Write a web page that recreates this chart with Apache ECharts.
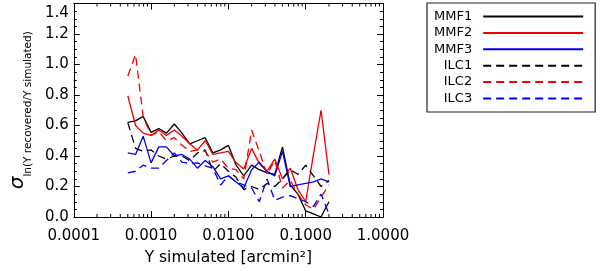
<!DOCTYPE html>
<html><head><meta charset="utf-8">
<script src="https://cdn.jsdelivr.net/npm/echarts@6/dist/echarts.min.js"></script>
<style>html,body{margin:0;padding:0;background:#fff}#c{width:600px;height:271px}</style>
</head><body><div id="c"></div>
<script>
// Y simulated bin centres [arcmin^2]
var ySim = [0.0005,0.00063,0.00079,0.001,0.00126,0.00158,0.002,0.00251,0.00316,0.00398,0.00501,0.00631,0.00794,0.01,0.0126,0.0158,0.02,0.0251,0.0316,0.0398,0.0501,0.0631,0.0794,0.1,0.126,0.158,0.2];
var MMF1 = [0.62,0.63,0.66,0.555,0.58,0.55,0.61,0.55,0.48,0.50,0.52,0.42,0.44,0.47,0.34,0.27,0.34,0.31,0.29,0.28,0.46,0.21,0.15,0.04,0.02,0.0,0.10];
var MMF2 = [0.795,0.60,0.55,0.535,0.57,0.535,0.57,0.53,0.48,0.44,0.50,0.41,0.42,0.43,0.355,0.315,0.45,0.35,0.30,0.38,0.25,0.32,0.18,0.10,0.41,0.70,0.28];
var MMF3 = [0.42,0.41,0.53,0.355,0.46,0.46,0.40,0.41,0.38,0.32,0.37,0.33,0.25,0.27,0.23,0.19,0.31,0.36,0.30,0.27,0.43,0.20,0.21,0.22,0.23,0.25,0.23];
var ILC1 = [0.62,0.45,0.43,0.44,0.40,0.38,0.40,0.40,0.37,0.42,0.44,0.30,0.35,0.30,0.26,0.18,0.20,0.18,0.22,0.20,0.25,0.31,0.28,0.34,0.27,0.20,0.24];
var ILC2 = [0.925,1.065,0.66,0.535,0.56,0.50,0.52,0.47,0.43,0.44,0.43,0.36,0.38,0.32,0.31,0.25,0.57,0.43,0.28,0.37,0.19,0.24,0.15,0.08,0.05,0.13,0.21];
var ILC3 = [0.29,0.30,0.34,0.32,0.32,0.37,0.42,0.36,0.35,0.355,0.335,0.32,0.21,0.27,0.23,0.21,0.19,0.10,0.25,0.11,0.13,0.14,0.12,0.10,0.07,0.15,0.02];
var seriesNames = ['MMF1','MMF2','MMF3','ILC1','ILC2','ILC3'];
var xMinorTicks = [0.0002,0.0003,0.0004,0.0005,0.0006,0.0007,0.0008,0.0009,0.002,0.003,0.004,0.005,0.006,0.007,0.008,0.009,0.02,0.03,0.04,0.05,0.06,0.07,0.08,0.09,0.2,0.3,0.4,0.5,0.6,0.7,0.8,0.9];

var RED = '#f00000', BLUE = '#0000f0', BLACK = '#000';
var FONT = 'DejaVu Sans';
function pairs(vals){ return ySim.map(function(x,i){ return [x, vals[i]]; }); }
function line(name, vals, color, dashed){
  return {name:name, type:'line', data:pairs(vals), xAxisIndex:0, yAxisIndex:0,
    symbol:'none', showSymbol:false, animation:false, clip:true,
    lineStyle:{color:color, width:1.3, type: dashed ? [8,5] : 'solid'},
    itemStyle:{color:color}};
}
var chart = echarts.init(document.getElementById('c'), null, {renderer:'canvas'});
var axisCommon = {axisLine:{show:true,onZero:false,lineStyle:{color:'#000',width:1}}, splitLine:{show:false}};
chart.setOption({
  animation:false,
  backgroundColor:'#fff',
  grid:{left:55, right:217, top:3.5, bottom:51, containLabel:false},
  legend:{
    show:true,
    data:seriesNames, orient:'vertical', left:427, top:3, align:'right',
    padding:[7,11,7,7], itemGap:3.4, itemWidth:100, itemHeight:14,
    borderColor:'#222', borderWidth:1.2, backgroundColor:'#fff',
    itemStyle:{color:'rgba(0,0,0,0)', borderColor:'rgba(0,0,0,0)', borderWidth:0, opacity:0},
    textStyle:{fontFamily:FONT, fontSize:13, color:'#000', padding:[0,6,0,0]}
  },
  xAxis:[
    Object.assign({type:'log', position:'bottom', min:0.0001, max:1, logBase:10,
      axisTick:{show:true, inside:true, length:6, lineStyle:{color:'#000'}},
      axisLabel:{show:true, margin:12, fontFamily:FONT, fontSize:15, color:'#000', formatter:function(v){ return Number(v).toFixed(4); }},
      name:'Y simulated [arcmin²]', nameLocation:'middle', nameGap:33,
      nameTextStyle:{fontFamily:FONT, fontSize:15.5, color:'#000'}}, axisCommon),
    Object.assign({type:'log', position:'top', min:0.0001, max:1, logBase:10,
      axisTick:{show:true, inside:true, length:6, lineStyle:{color:'#000'}},
      axisLabel:{show:false}}, axisCommon)
  ],
  yAxis:[
    Object.assign({type:'value', position:'left', min:0, max:1.4, interval:0.2,
      axisTick:{show:true, inside:true, length:6, lineStyle:{color:'#000'}},
      minorTick:{show:true, splitNumber:4, length:3, lineStyle:{color:'#000'}},
      axisLabel:{show:true, margin:5, fontFamily:FONT, fontSize:15, color:'#000',
        formatter:function(v){ return Math.abs(v-1.4)<1e-6 ? '{t|1.4}' : Number(v).toFixed(1); },
        rich:{t:{padding:[19,0,0,0], fontFamily:FONT, fontSize:15, color:'#000'}}},
      name:'{s|σ}{b|ln(Y recovered/Y simulated)}', nameLocation:'middle', nameRotate:90, nameGap:27,
      nameTextStyle:{fontFamily:FONT, color:'#000', rich:{
        s:{fontFamily:FONT, fontSize:20, fontStyle:'italic', color:'#000', verticalAlign:'top', padding:[0,0,6,0]},
        b:{fontFamily:FONT, fontSize:10.5, color:'#000', verticalAlign:'bottom'}}}}, axisCommon),
    Object.assign({type:'value', position:'right', min:0, max:1.4, interval:0.2,
      axisTick:{show:true, inside:true, length:6, lineStyle:{color:'#000'}},
      minorTick:{show:true, splitNumber:4, length:3, lineStyle:{color:'#000'}},
      axisLabel:{show:false}}, axisCommon)
  ],
  series:[
    line('MMF1', MMF1, BLACK, false),
    line('MMF2', MMF2, RED, false),
    line('MMF3', MMF3, BLUE, false),
    line('ILC1', ILC1, BLACK, true),
    line('ILC2', ILC2, RED, true),
    line('ILC3', ILC3, BLUE, true),
    {type:'custom', name:'xminor', xAxisIndex:0, yAxisIndex:0, silent:true, animation:false, clip:false,
      data:xMinorTicks.map(function(v){ return [v]; }),
      renderItem:function(params, api){
        var v = api.value(0);
        var b = api.coord([v, 0]);
        var t = api.coord([v, 1.4]);
        var st = {stroke:'#000', lineWidth:1};
        return {type:'group', children:[
          {type:'line', shape:{x1:b[0], y1:b[1], x2:b[0], y2:b[1]-3}, style:st},
          {type:'line', shape:{x1:t[0], y1:t[1], x2:t[0], y2:t[1]+3}, style:st}
        ]};
      }}
  ]
});
</script></body></html>
